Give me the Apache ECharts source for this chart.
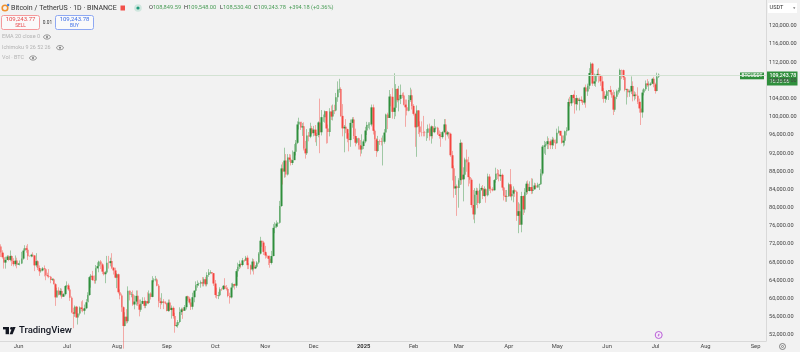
<!DOCTYPE html>
<html>
<head>
<meta charset="utf-8">
<style>
  html, body { margin: 0; padding: 0; background: #f2f2f2; }
  #chart { width: 800px; height: 352px; filter: blur(0.3px); }
</style>
<script src="https://cdn.jsdelivr.net/npm/echarts@6/dist/echarts.min.js"></script>
</head>
<body>
<div id="chart"></div>
<script>
// daily candles, 21 May 2024 to 3 Jul 2025, one row per month
let firstOpen = 71446
let closes = [
  70137,69122,67929,68526,69265,68518,69394,68296,67578,68364,67491,
  67706,67751,68804,70567,71082,70757,69342,69305,69648,69500,67321,68243,66747,66006,66191,66639,66490,65140,64960,64828,64096,64245,63180,60277,61806,60864,61706,60427,60986,62772,
  62900,62029,60173,57000,56662,58231,55857,56714,58050,57725,57339,57889,59204,60797,64724,65043,64087,63987,66660,67139,68165,67532,65936,65372,65777,67912,67813,68255,66819,66201,64619,
  65357,61415,60680,58116,53991,56034,55027,61710,60880,60945,58719,59354,60609,58739,57560,58874,59491,58427,59438,59014,61156,60381,64037,64157,64220,62834,59415,59034,59359,59123,58973,
  57301,59132,57487,57970,56160,53962,54160,54869,57042,57631,57347,58127,60499,59993,59132,58213,60309,61759,62947,63201,63348,63578,63339,64262,63143,65181,65769,65858,65602,63327,
  60805,60649,60752,62086,62058,62819,62224,62131,60582,60274,62445,63193,62851,66046,67041,67612,67399,68418,68362,69001,67367,67361,66432,68161,66642,67014,67929,69907,72736,72344,70292,
  69496,69374,68775,67850,69372,75571,75857,76510,76677,80370,88647,87952,90375,87325,91032,90586,89855,90464,92310,94286,98317,98892,97672,97900,93010,91965,95863,95643,97460,96407,
  97185,95840,96000,98768,96600,99920,99924,101236,97432,96675,101173,100043,101459,101372,104298,106030,106140,100204,97461,97805,97291,95186,94881,98663,99430,95791,94299,95300,93738,92792,93576,
  94591,96984,98174,98236,98314,102078,96922,95043,92484,94701,94566,94488,94516,96534,100504,99756,104462,104408,101089,102016,106146,103653,103960,104819,104714,102682,102087,101332,103703,104735,102405,
  100655,97688,101405,97871,96615,96593,96529,96482,96500,97437,95747,97885,96623,97508,97580,96175,95773,95539,96635,98333,96125,96577,96278,91552,88680,84250,84708,84349,
  86064,94270,86220,87281,90606,90000,86734,86154,80601,78532,82862,83722,81066,83969,84343,82579,84075,82718,86854,84167,84043,83832,86082,87498,87392,86909,87232,84424,82648,82389,82550,
  85158,82516,83102,83843,83504,78214,79235,76272,82573,79626,83404,85287,83684,84542,83668,84033,84895,84450,85063,85174,87516,93442,93691,93980,94638,94630,93754,94978,94284,94207,
  96492,96910,95891,94315,94748,96802,97032,103261,102971,104809,104118,102791,104103,103507,103763,103463,103126,106454,105573,106849,109643,111696,107318,107791,109035,109440,108994,107802,105641,103985,104591,
  105652,105881,105432,104731,101575,104390,105615,105793,110295,110257,108686,105929,106066,105414,105594,106794,104551,104886,104658,103297,101844,100964,105333,106083,107340,106948,107047,107296,108356,107146,
  105681,108849,109243
]
let highs = [
  71950,70630,70050,69220,69560,69550,70600,69500,68900,69500,69000,
  67850,68400,70300,71050,71750,71650,72000,69500,69850,70200,69550,70000,68450,67300,66400,66950,67300,66600,65700,66500,65000,64500,64500,63400,62400,62500,62300,62200,61200,63000,
  63800,63300,62300,60500,58000,58500,58400,58200,58300,59400,59650,58700,59900,61400,65000,65400,66100,65100,67400,68000,68350,68500,67800,67100,66100,69400,69400,69000,70000,66900,66800,
  65600,65500,62000,61100,58300,57000,57700,62700,61800,61450,61800,60700,61800,61800,59800,59800,60300,60300,59600,61400,61800,61400,64950,64500,65000,64500,63200,60200,61200,59900,59450,
  59000,59800,59800,58500,58300,56900,54800,55300,58100,58000,58000,58600,60600,60650,60400,59200,61300,61800,63800,64000,63550,64000,64750,64700,64800,65800,66500,66250,65800,65650,
  64100,62400,61500,62500,62400,63000,64500,63000,62500,61300,63400,63500,63300,66500,67900,68400,67900,68950,68700,69400,69500,67800,67500,68850,68700,67400,68250,70250,73600,72700,72700,
  71600,69950,69500,69500,70500,76400,76800,77200,76800,81500,89500,90000,93200,91800,91800,91800,91700,92600,94000,94900,99000,99800,98800,98650,98800,94700,97300,96650,98700,98000,
  98000,98200,96500,99000,104000,101500,100500,101400,101200,98300,101900,102500,102700,102650,105250,107800,108350,106500,102800,98200,99500,97400,96400,99400,99900,99950,97400,95700,95400,94900,96150,
  95000,97800,98900,98800,98800,102700,102700,97200,95300,95800,95000,95400,95900,97300,100700,100900,105900,105000,106300,109588,107200,106300,106800,107100,105300,105400,103800,103800,104800,106400,106000,
  102800,100900,102500,101500,99000,99000,100200,96900,97300,98300,98500,98100,98000,99500,97900,97800,97000,96700,96900,99500,99500,96900,96700,96500,92500,89300,87000,85100,
  86500,95000,94400,88900,91000,92800,91200,86900,86500,83900,84300,84400,84300,85300,84700,85000,84700,84300,87500,87400,84700,84500,86300,88800,88500,88300,88500,87500,84600,83900,83900,
  85500,88500,84700,84700,84200,83800,81200,80900,83500,82700,84300,85800,86000,85800,86500,86400,85500,85400,85500,85300,88500,93800,94700,94500,95700,95300,95000,95600,95400,95000,
  97400,97900,96900,96000,95900,97000,97700,104000,104400,104400,105000,105800,104800,104200,104200,104500,103700,106600,107100,107300,110700,112000,111900,109500,109300,110400,110700,109300,108900,106300,104900,
  105900,105900,106800,106000,105900,105500,106000,106400,110600,110400,110400,108800,106200,106200,106000,108900,107800,105600,105400,106500,104000,103300,106000,106300,108000,108300,107800,107600,108500,108800,
  107500,109700,109548
]
let lows = [
  69160,68800,66600,66600,68500,68250,68200,67200,67100,67130,66670,
  67400,67300,67600,68550,70400,70100,68500,69200,69100,69150,66050,66900,66300,65000,65700,66000,64900,64050,64700,64500,63400,63900,63150,58400,60600,60700,60500,60000,60400,60700,
  62500,61700,59500,56800,53500,56000,55800,54300,56300,57200,57000,56500,57700,59500,60600,62400,63900,63300,63300,66700,65800,66500,65400,65100,63400,65700,66600,67100,66500,65300,64500,
  62300,61100,59850,57100,49000,53900,54500,54600,59600,60300,58400,57650,58500,58400,56100,57100,58800,57900,57900,58800,58800,59800,60300,63600,63800,62700,58100,57700,58700,57700,58750,
  57200,57100,57200,55600,55600,52500,53750,53600,54600,56400,55550,57300,57600,59500,58700,57500,57600,59200,61600,62400,62800,62400,62700,62700,62700,62700,64800,65400,65400,62800,
  60200,60000,59900,60500,61700,61900,62100,61800,60300,58900,60050,62400,62000,62400,64800,66500,66700,67100,68100,68400,66500,66500,65300,66000,65300,66500,66800,67600,69700,71400,69600,
  68800,69000,67400,66800,67500,69300,74400,75500,75800,76500,80200,85100,86600,86700,87100,90100,89300,89400,90800,91500,94000,97200,97100,95800,92600,90800,91600,94600,95300,96100,
  95700,94400,93600,95500,92000,95900,98900,98700,94100,94200,95700,99300,99200,100600,101200,103300,105300,100000,95700,92200,96400,94400,92400,93400,97600,95100,93500,94000,92800,91300,91900,
  92900,94200,96000,97500,97200,97900,96100,92500,91200,92200,93800,93700,89300,94100,96500,97300,99900,102300,99600,99500,100100,103200,101200,102800,104100,102500,97800,100300,101200,103300,101600,
  100300,93400,91200,96200,95600,95700,95700,95700,94700,95300,94800,94100,95200,96400,97200,96000,95200,93400,95200,96400,94800,95700,95200,91200,86000,82200,82800,78200,
  80000,85000,85100,81400,86300,87900,84700,85300,80000,77400,76600,80600,79900,80800,83700,81900,82400,81100,82500,83700,83200,83600,83800,85500,86300,85800,85900,83800,81600,81300,81300,
  82400,82300,81600,81200,82400,77100,74400,76200,74600,78400,78900,82800,83000,83600,83000,83100,84000,84100,84400,83900,85100,87100,91900,91600,92900,92900,92900,92900,93600,92900,
  94100,96300,95800,94100,93500,93700,95900,96900,102300,102400,103100,100700,101400,102600,101400,103100,102600,102700,102000,104600,106100,109300,106800,106800,106600,108900,107500,106800,103900,103100,103100,
  103700,103700,104900,104200,100400,101100,103900,104900,105300,108300,108100,105600,102700,104300,104400,105000,103400,103600,103900,102800,100900,98200,99800,104700,105700,106600,105700,106800,107200,106500,
  105100,105600,108530
]
let priceTicks = [52000,56000,60000,64000,68000,72000,76000,80000,84000,88000,92000,96000,100000,104000,108000,112000,116000,120000]
let monthNames = ['Jan','Feb','Mar','Apr','May','Jun','Jul','Aug','Sep','Oct','Nov','Dec']
let lastPrice = 109243.78

// the axis runs on past the last candle, up to 7 Sep 2025
let dates = []
for (let d = new Date(Date.UTC(2024, 4, 21)); d <= new Date(Date.UTC(2025, 8, 7)); d.setUTCDate(d.getUTCDate() + 1)) {
    dates.push(d.toISOString().slice(0, 10))
}

// binance daily candles open at the previous close
let opens = closes.map((c, i) => i ? closes[i - 1] : firstOpen)
let wickData = closes.map((c, i) => [opens[i], c, lows[i], highs[i]])
let bodyData = closes.map((c, i) => [opens[i], c, Math.min(opens[i], c), Math.max(opens[i], c)])

const GREEN = '#2f8f3c'
const RED = '#f6453f'
const FONT = 'Roboto, "Liberation Sans", sans-serif'

function txt(x, y, text, size, fill, extra) {
    return {
        type: 'text', x: x, y: y, silent: true,
        style: Object.assign({
            text: text, fontSize: size, fill: fill, fontFamily: FONT,
            verticalAlign: 'middle', align: 'left'
        }, extra || {})
    }
}
function box(x, y, w, h, fill, stroke, r) {
    return {
        type: 'rect', silent: true,
        shape: { x: x, y: y, width: w, height: h, r: r || 0 },
        style: { fill: fill, stroke: stroke || null, lineWidth: 1 }
    }
}
function eye(x, y) {
    return [
        { type: 'ellipse', silent: true, shape: { cx: x, cy: y, rx: 3.4, ry: 2.1 }, style: { fill: 'none', stroke: '#777', lineWidth: 0.8 } },
        { type: 'circle', silent: true, shape: { cx: x, cy: y, r: 1 }, style: { fill: '#777' } }
    ]
}

let ohlcRow = [
    [149, 'O', '108,849.59'],
    [184, 'H', '109,548.00'],
    [220, 'L', '108,530.40'],
    [254, 'C', '109,243.78']
]

let overlays = [
    // symbol header
    { type: 'circle', silent: true, shape: { cx: 5, cy: 8, r: 2.8 }, style: { fill: 'none', stroke: '#f0912e', lineWidth: 1.6 } },
    { type: 'circle', silent: true, shape: { cx: 8.2, cy: 5, r: 1.2 }, style: { fill: '#3f7fd8' } },
    txt(11, 8, 'Bitcoin / TetherUS · 1D · BINANCE', 7.05, '#333'),
    box(120.5, 5.5, 4.5, 5, '#f2504a'),
    { type: 'circle', silent: true, shape: { cx: 138, cy: 8, r: 3.8 }, style: { fill: '#cfe6de' } },
    { type: 'circle', silent: true, shape: { cx: 138, cy: 8, r: 1.6 }, style: { fill: '#1f9a7a' } },
    txt(289, 8, '+394.18 (+0.36%)', 5.7, '#4a9d57'),
    // sell and buy
    box(1.5, 15.5, 38, 14, '#fafafa', '#f49a9c', 2),
    box(55.5, 15.5, 38, 14, '#fafafa', '#8ea8f2', 2),
    txt(20.5, 19.8, '109,243.77', 6, '#e8484a', { align: 'center' }),
    txt(20.5, 26, 'SELL', 4.8, '#e8484a', { align: 'center' }),
    txt(74.5, 19.8, '109,243.78', 6, '#3c6ee8', { align: 'center' }),
    txt(74.5, 26, 'BUY', 4.8, '#3c6ee8', { align: 'center' }),
    txt(47.5, 22.8, '0.01', 4.8, '#333', { align: 'center' }),
    // indicator list
    txt(2, 37, 'EMA 20 close 0', 5.5, '#b3b3b3'),
    txt(2, 47.7, 'Ichimoku 9 26 52 26', 5.4, '#b3b3b3'),
    txt(2, 58, 'Vol · BTC', 5.5, '#b3b3b3'),
    ...eye(47, 37), ...eye(60, 47.7), ...eye(33, 58),
    // TradingView logo
    box(3, 327, 6, 2.4, '#131722'),
    box(5.6, 327, 3.4, 7.2, '#131722'),
    { type: 'circle', silent: true, shape: { cx: 11.4, cy: 328.4, r: 1.3 }, style: { fill: '#131722' } },
    { type: 'polygon', silent: true, shape: { points: [[12.5, 327], [15.6, 327], [12.6, 334.2], [9.6, 334.2]] }, style: { fill: '#131722' } },
    txt(19, 331, 'TradingView', 9.5, '#131722', { fontWeight: 500 }),
    // event marker
    { type: 'circle', silent: true, shape: { cx: 658.7, cy: 335, r: 3.5 }, style: { fill: '#f6ecf9', stroke: '#b24fd3', lineWidth: 0.9 } },
    { type: 'polygon', silent: true, shape: { points: [[659.5, 332.8], [657.5, 335.4], [658.6, 335.4], [657.9, 337.2], [659.9, 334.6], [658.8, 334.6]] }, style: { fill: '#b24fd3' } },
    // right side chrome
    box(768, 3, 29, 10, '#ffffff'),
    txt(769.5, 8, 'USDT', 5.6, '#333'),
    { type: 'polygon', silent: true, shape: { points: [[793, 7.4], [795.4, 7.4], [794.2, 8.8]] }, style: { fill: '#333' } },
    box(740, 72.5, 24, 6.8, GREEN),
    txt(752, 76, 'BTCUSDT', 4.8, '#fff', { align: 'center', fontWeight: 500 }),
    box(766, 71.5, 31.5, 14, GREEN),
    txt(769.5, 75.3, '109,243.78', 5.3, '#fff', { fontWeight: 500 }),
    txt(769.5, 81.2, '16:26:06', 5.2, '#dfefe2'),
    { type: 'circle', silent: true, shape: { cx: 782.5, cy: 346.5, r: 3 }, style: { fill: 'none', stroke: '#666', lineWidth: 0.8 } },
    { type: 'circle', silent: true, shape: { cx: 782.5, cy: 346.5, r: 1 }, style: { fill: 'none', stroke: '#666', lineWidth: 0.7 } }
]
ohlcRow.forEach(r => {
    overlays.push(txt(r[0], 8, '{a|' + r[1] + '}{b|' + r[2] + '}', 5.7, '#4a9d57', {
        rich: {
            a: { fill: '#333', fontSize: 5.7, fontFamily: FONT },
            b: { fill: '#4a9d57', fontSize: 5.7, fontFamily: FONT }
        }
    }))
})

let chart = echarts.init(document.getElementById('chart'), null, { renderer: 'canvas' })
chart.setOption({
    animation: false,
    backgroundColor: '#f2f2f2',
    grid: { left: 0, top: 0, width: 766, height: 341, containLabel: false },
    xAxis: {
        type: 'category',
        data: dates,
        boundaryGap: true,
        axisLine: { lineStyle: { color: '#d9d9d9', width: 1 } },
        axisTick: { show: false },
        splitLine: { show: false },
        axisLabel: {
            margin: 2.5,
            fontSize: 5.8,
            color: '#444',
            fontFamily: FONT,
            hideOverlap: false,
            interval: (i, v) => v.slice(8) === '01',
            formatter: v => {
                let m = parseInt(v.slice(5, 7)) - 1
                return m === 0 ? '{year|' + v.slice(0, 4) + '}' : monthNames[m]
            },
            rich: { year: { fontSize: 5.8, fontWeight: 'bold', color: '#333', fontFamily: FONT } }
        }
    },
    yAxis: {
        type: 'value',
        position: 'right',
        min: 50680,
        max: 125700,
        axisLine: { show: true, onZero: false, lineStyle: { color: '#d9d9d9', width: 1 } },
        axisTick: { show: false },
        splitLine: { show: false },
        axisLabel: {
            customValues: priceTicks,
            margin: 3,
            fontSize: 5.6,
            color: '#444',
            fontFamily: FONT,
            formatter: v => v.toLocaleString('en-US') + '.00'
        }
    },
    series: [
        {
            name: 'wicks',
            type: 'candlestick',
            silent: true,
            barWidth: 1,
            data: wickData,
            itemStyle: {
                color: 'rgba(47,143,60,0.42)', color0: 'rgba(246,69,63,0.42)',
                borderColor: 'rgba(47,143,60,0.42)', borderColor0: 'rgba(246,69,63,0.42)',
                borderWidth: 1
            },
            markLine: {
                silent: true,
                symbol: 'none',
                label: { show: false },
                lineStyle: { color: '#d3e2d3', width: 1, type: 'solid' },
                data: [{ yAxis: lastPrice }]
            }
        },
        {
            name: 'bodies',
            type: 'candlestick',
            silent: true,
            barWidth: 2,
            data: bodyData,
            itemStyle: {
                color: GREEN, color0: RED,
                borderColor: GREEN, borderColor0: RED,
                borderWidth: 0
            }
        }
    ],
    graphic: overlays
})
</script>
</body>
</html>
